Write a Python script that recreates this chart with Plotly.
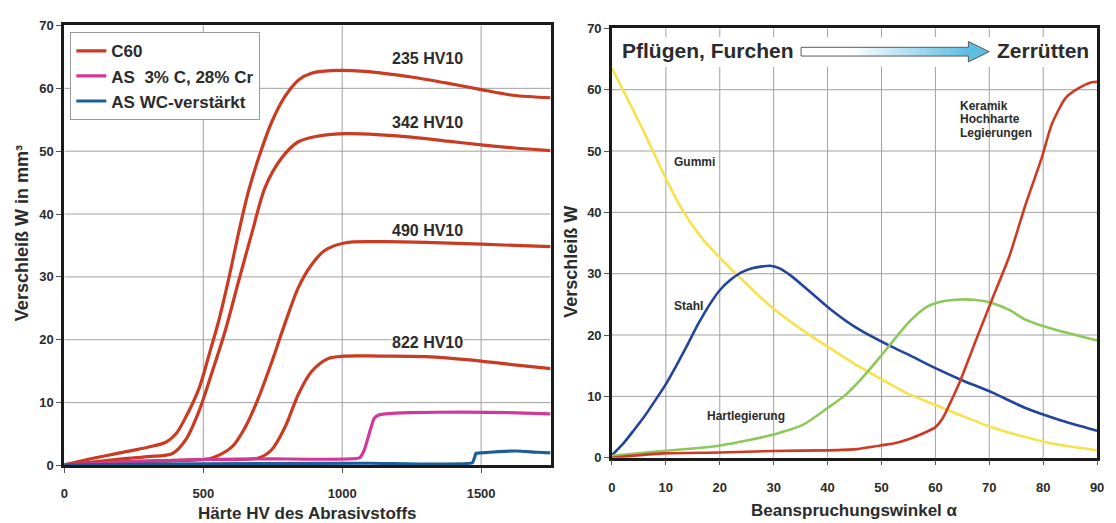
import plotly.graph_objects as go

# ---------------- data: left chart (Härte HV des Abrasivstoffs) ----------------
hv_235 = [0, 100, 200, 300, 365, 401, 437, 485, 520, 556, 592, 627, 663, 699, 746, 794, 842, 889, 961, 1080, 1248, 1368, 1500, 1614, 1750]
w_235 = [0.1, 1.1, 2.0, 2.9, 3.7, 5.0, 7.7, 12.3, 17.5, 23.1, 29.8, 37.0, 43.7, 48.9, 54.6, 58.7, 61.3, 62.4, 62.8, 62.7, 61.8, 60.9, 59.8, 58.9, 58.5]

hv_342 = [0, 100, 200, 300, 389, 437, 485, 532, 580, 627, 675, 723, 782, 842, 913, 1020, 1139, 1257, 1380, 1500, 1620, 1750]
w_342 = [0.1, 0.55, 1.0, 1.4, 1.9, 4.1, 8.7, 14.9, 21.6, 29.3, 37.0, 44.3, 48.9, 51.5, 52.4, 52.8, 52.6, 52.2, 51.6, 51.0, 50.5, 50.1]

hv_490 = [0, 250, 500, 532, 604, 651, 699, 746, 794, 842, 889, 937, 1008, 1139, 1300, 1500, 1750]
w_490 = [0.1, 0.6, 0.95, 1.2, 3.0, 6.1, 10.8, 16.4, 22.6, 28.3, 31.9, 34.2, 35.4, 35.6, 35.5, 35.2, 34.8]

hv_822 = [0, 250, 500, 699, 746, 794, 842, 889, 949, 1008, 1139, 1300, 1500, 1620, 1750]
w_822 = [0.1, 0.6, 0.95, 1.2, 2.5, 6.1, 11.3, 14.9, 17.0, 17.4, 17.4, 17.3, 16.6, 16.0, 15.4]

hv_as = [0, 250, 500, 750, 1062, 1080, 1100, 1115, 1130, 1157, 1246, 1437, 1600, 1750]
w_as = [0.1, 0.6, 0.95, 1.05, 1.2, 2.5, 5.5, 7.5, 8.0, 8.2, 8.4, 8.5, 8.4, 8.2]

hv_wc = [0, 300, 700, 1100, 1468, 1476, 1481, 1500, 1563, 1627, 1700, 1750]
w_wc = [0.05, 0.2, 0.3, 0.35, 0.4, 1.2, 1.9, 2.0, 2.2, 2.3, 2.1, 2.0]

legend_names = ["C60", "AS\u00a0 3% C, 28% Cr", "AS WC-verstärkt"]
c60_labels = ["235 HV10", "342 HV10", "490 HV10", "822 HV10"]
c60_label_y = [64.7, 54.6, 37.4, 19.6]
left_xticks = [0, 500, 1000, 1500]
left_yticks = [0, 10, 20, 30, 40, 50, 60, 70]

# ---------------- data: right chart (Beanspruchungswinkel) ----------------
ang_gummi = [0, 3, 6, 10, 13, 16.5, 20, 23, 26.5, 30, 35, 40, 45, 50, 55, 60, 65, 70, 77, 83, 90]
w_gummi = [63.5, 58.3, 53.0, 45.5, 40.5, 36.0, 32.6, 30.0, 27.0, 24.3, 21.0, 18.1, 15.3, 12.8, 10.4, 8.6, 6.8, 5.1, 3.3, 2.1, 1.2]

ang_stahl = [0, 2, 4, 6, 8, 10, 12, 14, 16, 18, 20, 22, 24, 26, 28, 29.3, 31, 33, 35.5, 40.4, 45.3, 51.4, 55, 60, 64.5, 70.6, 76.7, 82.9, 90]
w_stahl = [0.4, 2.2, 4.4, 6.7, 9.3, 12.0, 15.1, 18.4, 21.8, 24.8, 27.3, 29.0, 30.2, 30.9, 31.2, 31.3, 30.9, 29.8, 28.0, 24.3, 21.2, 18.3, 16.8, 14.6, 12.8, 10.6, 8.1, 6.2, 4.4]

ang_hart = [0, 5, 9.5, 15, 20, 25, 30, 35.5, 40, 43.3, 46, 48, 50, 52.2, 55.3, 58.4, 61.4, 64.5, 67.5, 70.6, 73.7, 76.7, 79.8, 82.9, 86.5, 90]
w_hart = [0.3, 0.7, 1.1, 1.5, 2.0, 2.8, 3.8, 5.4, 8.1, 10.2, 12.6, 14.6, 16.7, 19.1, 22.3, 24.6, 25.5, 25.8, 25.7, 25.2, 24.1, 22.5, 21.5, 20.7, 19.9, 19.1]

ang_keramik = [0, 9.5, 20, 30, 40, 45.3, 49.8, 52.2, 55, 57, 59.9, 61.4, 62.3, 64.5, 67.5, 70.6, 73.7, 76.7, 79.8, 81.6, 84.1, 86.5, 89, 90]
w_keramik = [0.0, 0.7, 0.85, 1.1, 1.2, 1.4, 2.0, 2.3, 3.0, 3.7, 4.9, 6.5, 8.1, 12.3, 19.1, 26.0, 32.8, 41.2, 49.1, 54.4, 58.6, 60.2, 61.2, 61.3]

keramik_lines = ["Keramik", "Hochharte", "Legierungen"]
keramik_y = [57.4, 55.2, 53.0]
right_xticks = [0, 10, 20, 30, 40, 50, 60, 70, 80, 90]
right_yticks = [0, 10, 20, 30, 40, 50, 60, 70]

# ---------------- styling ----------------
FONT = "Liberation Sans, Arial, Helvetica, sans-serif"
TXT = "#2b2b2b"
RED_L, PINK, BLUE_L = "#c93b22", "#d0399a", "#1d5e98"
YEL, BLUE_R, GRN, RED_R = "#f6e24a", "#24439c", "#8cc85a", "#cf3a24"
GRID = "#a0a0a0"
W, H = 1116, 523

fig = go.Figure()

c60_sets = [(hv_235, w_235), (hv_342, w_342), (hv_490, w_490), (hv_822, w_822)]
for i, (xs, ys) in enumerate(c60_sets):
    fig.add_trace(go.Scatter(
        x=xs, y=ys, mode="lines", name=legend_names[0], legendgroup="c60", showlegend=(i == 0),
        line=dict(color=RED_L, width=3.2, shape="spline", smoothing=0.9),
        xaxis="x", yaxis="y", hoverinfo="skip"))
fig.add_trace(go.Scatter(
    x=hv_as, y=w_as, mode="lines", name=legend_names[1],
    line=dict(color=PINK, width=3.2, shape="spline", smoothing=0.4),
    xaxis="x", yaxis="y", hoverinfo="skip"))
fig.add_trace(go.Scatter(
    x=hv_wc, y=w_wc, mode="lines", name=legend_names[2],
    line=dict(color=BLUE_L, width=3.2, shape="spline", smoothing=0.4),
    xaxis="x", yaxis="y", hoverinfo="skip"))

for xs, ys, col in [(ang_gummi, w_gummi, YEL), (ang_stahl, w_stahl, BLUE_R),
                    (ang_hart, w_hart, GRN), (ang_keramik, w_keramik, RED_R)]:
    fig.add_trace(go.Scatter(
        x=xs, y=ys, mode="lines", showlegend=False,
        line=dict(color=col, width=2.6, shape="spline", smoothing=0.6),
        xaxis="x2", yaxis="y2", hoverinfo="skip"))

tickfont = dict(family=FONT, size=13, color=TXT, weight="bold")
common_axis = dict(showline=True, mirror=True, linecolor="#1a1a1a", showgrid=False,
                   zeroline=False, ticks="outside",
                   ticklen=5, tickwidth=1, tickcolor="#555", tickfont=tickfont,
                   fixedrange=True)

fig.update_layout(
    width=W, height=H,
    margin=dict(l=0, r=0, t=0, b=0),
    paper_bgcolor="white", plot_bgcolor="white",
    font=dict(family=FONT, color=TXT),
    showlegend=True,
    legend=dict(x=67 / W, y=1 - 26 / H, xanchor="left", yanchor="top",
                bgcolor="white", bordercolor="#9a9a9a", borderwidth=1,
                font=dict(family=FONT, size=17, color=TXT, weight="bold"),
                itemwidth=30, tracegroupgap=0),
    xaxis=dict(domain=[61 / W, 552 / W], range=[0, 1750], tickvals=left_xticks,
               anchor="y", linewidth=3, ticklabelstandoff=9, **common_axis),
    yaxis=dict(domain=[1 - 472 / H, 1 - 19 / H], range=[0, 70], tickvals=left_yticks,
               anchor="x", linewidth=3, **common_axis),
    xaxis2=dict(domain=[614 / W, 1104 / W], range=[0, 90], tickvals=right_xticks,
                anchor="y2", linewidth=2.5, ticklabelstandoff=11, **common_axis),
    yaxis2=dict(domain=[1 - 464 / H, 1 - 22 / H], range=[0, 70], tickvals=right_yticks,
                anchor="x2", linewidth=2.5, **common_axis),
)

shapes = []
# grid lines at the tick values (drawn as shapes so the header band can cover them)
for v in left_xticks[1:]:
    shapes.append(dict(type="line", xref="x", yref="y", x0=v, x1=v, y0=0, y1=70,
                       line=dict(color=GRID, width=1), layer="below"))
for v in left_yticks[1:-1]:
    shapes.append(dict(type="line", xref="x", yref="y", x0=0, x1=1750, y0=v, y1=v,
                       line=dict(color=GRID, width=1), layer="below"))
for v in right_xticks[1:-1]:
    shapes.append(dict(type="line", xref="x2", yref="y2", x0=v, x1=v, y0=0, y1=70,
                       line=dict(color=GRID, width=1), layer="below"))
for v in right_yticks[1:-1]:
    shapes.append(dict(type="line", xref="x2", yref="y2", x0=0, x1=90, y0=v, y1=v,
                       line=dict(color=GRID, width=1), layer="below"))
# white band behind the header of the right chart
shapes.append(dict(type="rect", xref="x2", yref="y2", x0=0, x1=90, y0=63.7, y1=68.6,
                   fillcolor="white", line=dict(width=0), layer="below"))

# header arrow with white -> light blue gradient (pixel geometry in paper units)
ax0, ax1, atip = 805, 974, 995
ay_top, ay_bot, ah_top, ah_bot, ay_mid = 41.5, 50.5, 35.5, 56.5, 46
c0 = (255, 255, 255)
c1 = (92, 189, 226)
n = 34
for k in range(n):
    xa = ax0 + (ax1 - ax0) * k / n
    xb = ax0 + (ax1 - ax0) * (k + 1) / n
    t = max(0.0, (k + 0.5) / n - 0.3) / 0.7
    col = "rgb(%d,%d,%d)" % tuple(round(c0[j] + (c1[j] - c0[j]) * t) for j in range(3))
    shapes.append(dict(type="rect", xref="paper", yref="paper",
                       x0=xa / W, x1=(xb + 0.6) / W, y0=1 - ay_bot / H, y1=1 - ay_top / H,
                       fillcolor=col, line=dict(width=0), layer="above"))
head = "M %f,%f L %f,%f L %f,%f Z" % (ax1 / W, 1 - ah_top / H, atip / W, 1 - ay_mid / H, ax1 / W, 1 - ah_bot / H)
shapes.append(dict(type="path", xref="paper", yref="paper", path=head,
                   fillcolor="rgb(92,189,226)", line=dict(width=0), layer="above"))
pts = [(ax0, ay_top), (ax1, ay_top), (ax1, ah_top), (atip, ay_mid), (ax1, ah_bot),
       (ax1, ay_bot), (ax0, ay_bot)]
outline = "M " + " L ".join("%f,%f" % (px / W, 1 - py / H) for px, py in pts) + " Z"
shapes.append(dict(type="path", xref="paper", yref="paper", path=outline,
                   fillcolor="rgba(0,0,0,0)", line=dict(color="#5a5a5a", width=1), layer="above"))
fig.update_layout(shapes=shapes)

ann = []
for lab, ly in zip(c60_labels, c60_label_y):
    ann.append(dict(x=1308, y=ly, xref="x", yref="y", text=lab, showarrow=False,
                    bgcolor="white", borderpad=0,
                    font=dict(family=FONT, size=16, color=TXT, weight="bold")))

small = dict(family=FONT, size=12, color=TXT, weight="bold")
for lab, ly in zip(keramik_lines, keramik_y):
    ann.append(dict(x=64.2, y=ly, xref="x2", yref="y2", text=lab, showarrow=False,
                    xanchor="left", font=small))
ann += [
    dict(x=11.2, y=48.2, xref="x2", yref="y2", text="Gummi", showarrow=False, xanchor="left", font=small),
    dict(x=11.2, y=24.8, xref="x2", yref="y2", text="Stahl", showarrow=False, xanchor="left", font=small),
    dict(x=17.3, y=6.8, xref="x2", yref="y2", text="Hartlegierung", showarrow=False, xanchor="left", font=small),
    dict(x=622 / W, y=1 - 45 / H, xref="paper", yref="paper", text="Pflügen, Furchen",
         showarrow=False, xanchor="left", yanchor="middle",
         font=dict(family=FONT, size=21, color=TXT, weight="bold")),
    dict(x=1098 / W, y=1 - 45 / H, xref="paper", yref="paper", text="Zerrütten",
         showarrow=False, xanchor="right", yanchor="middle",
         font=dict(family=FONT, size=21, color=TXT, weight="bold")),
    dict(x=307 / W, y=1 - 521 / H, xref="paper", yref="paper", text="Härte HV des Abrasivstoffs",
         showarrow=False, xanchor="center", yanchor="middle",
         font=dict(family=FONT, size=17, color=TXT, weight="bold")),
    dict(x=859 / W, y=1 - 518 / H, xref="paper", yref="paper", text="Beanspruchungswinkel α",
         showarrow=False, xanchor="center", yanchor="middle",
         font=dict(family=FONT, size=17, color=TXT, weight="bold")),
    dict(x=18 / W, y=1 - 233 / H, xref="paper", yref="paper", text="Verschleiß W in mm³",
         showarrow=False, textangle=-90, xanchor="center", yanchor="middle",
         font=dict(family=FONT, size=18, color=TXT, weight="bold")),
    dict(x=573 / W, y=1 - 262 / H, xref="paper", yref="paper", text="Verschleiß W",
         showarrow=False, textangle=-90, xanchor="center", yanchor="middle",
         font=dict(family=FONT, size=18, color=TXT, weight="bold")),
]
fig.update_layout(annotations=ann)

fig.write_html("out.html")
